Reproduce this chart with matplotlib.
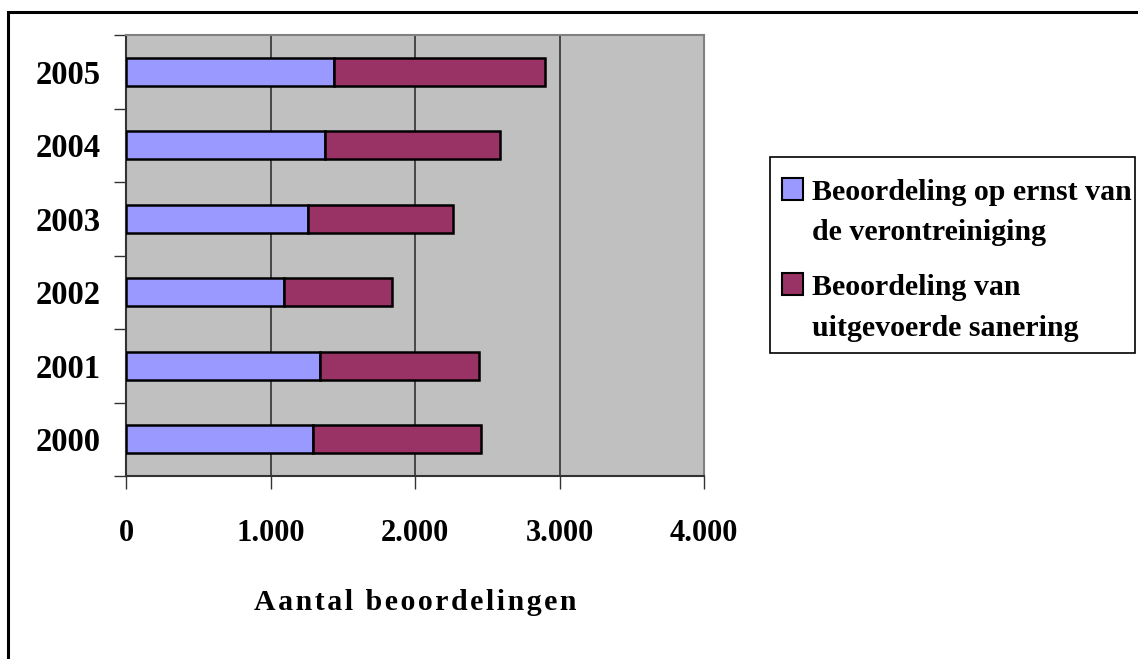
import matplotlib.pyplot as plt
from matplotlib.patches import Rectangle

jaren = ["2000", "2001", "2002", "2003", "2004", "2005"]
ernst = [1295, 1340, 1095, 1260, 1380, 1440]
sanering = [1165, 1105, 745, 1000, 1210, 1460]
x_ticks = [0, 1000, 2000, 3000, 4000]
x_labels = ["0", "1.000", "2.000", "3.000", "4.000"]
legenda = [["Beoordeling op ernst van", "de verontreiniging"],
           ["Beoordeling van", "uitgevoerde sanering"]]

blauw = "#9999FF"
paars = "#993366"
serif = ["Liberation Serif", "DejaVu Serif"]
W, H = 1138, 659

fig = plt.figure(figsize=(W / 100, H / 100), dpi=100)
ax = fig.add_axes([126 / W, 1 - 476 / H, 578 / W, 441 / H])

pos = range(len(jaren))
ax.barh(pos, ernst, height=0.38, color=blauw, edgecolor="black", linewidth=1.8, zorder=3)
ax.barh(pos, sanering, left=ernst, height=0.38, color=paars, edgecolor="black",
        linewidth=1.8, zorder=3)

ax.set_facecolor("#C0C0C0")
ax.set_xlim(0, 4000)
ax.set_ylim(-0.5, len(jaren) - 0.5)

ax.set_xticks(x_ticks)
ax.set_xticklabels(x_labels, fontfamily=serif, fontweight="bold", fontsize=22)
ax.set_yticks(list(pos))
ax.set_yticklabels(jaren, fontfamily=serif, fontweight="bold", fontsize=23.5)
ax.set_yticks([i - 0.5 for i in range(len(jaren) + 1)], minor=True)

ax.tick_params(axis="y", which="major", length=0, pad=18.5)
ax.tick_params(axis="y", which="minor", length=9, width=1, color="#333333", direction="out")
ax.tick_params(axis="x", which="major", length=9, width=1, color="#333333", direction="out", pad=22)

ax.grid(axis="x", color="#333333", linewidth=1.2, zorder=1)
ax.set_axisbelow(True)

for kant in ["top", "right"]:
    ax.spines[kant].set_color("#808080")
    ax.spines[kant].set_linewidth(1.5)
for kant in ["left", "bottom"]:
    ax.spines[kant].set_color("#333333")
    ax.spines[kant].set_linewidth(1.5)

# titel van de x-as met een beetje extra letterafstand
titel = "\u200a".join("Aantal beoordelingen")
ax.set_xlabel(titel, fontfamily=serif, fontweight="bold", fontsize=21.5, va="center")
ax.xaxis.set_label_coords(0.5, (476 - 603) / 441)

# legenda met het vlakje naast de eerste regel
fig.patches.append(Rectangle((770 / W, 1 - 353 / H), 365 / W, 196 / H,
                             transform=fig.transFigure, facecolor="white",
                             edgecolor="black", linewidth=1.2))
for kleur, regels, top in zip([blauw, paars], legenda, [178, 273]):
    fig.patches.append(Rectangle((782 / W, 1 - (top + 22) / H), 21 / W, 22 / H,
                                 transform=fig.transFigure, facecolor=kleur,
                                 edgecolor="black", linewidth=1.5))
    for j, regel in enumerate(regels):
        fig.text(812 / W, 1 - (top + 22 + 40.5 * j) / H, regel, fontfamily=serif,
                 fontweight="bold", fontsize=21.5, va="baseline", ha="left")

# rand rondom de hele figuur
fig.patches.append(Rectangle((7.5 / W, -0.1), 1.2, 1 - 12 / H + 0.1,
                             transform=fig.transFigure, fill=False,
                             edgecolor="black", linewidth=2.2))

fig.savefig("out.png", dpi=100)
